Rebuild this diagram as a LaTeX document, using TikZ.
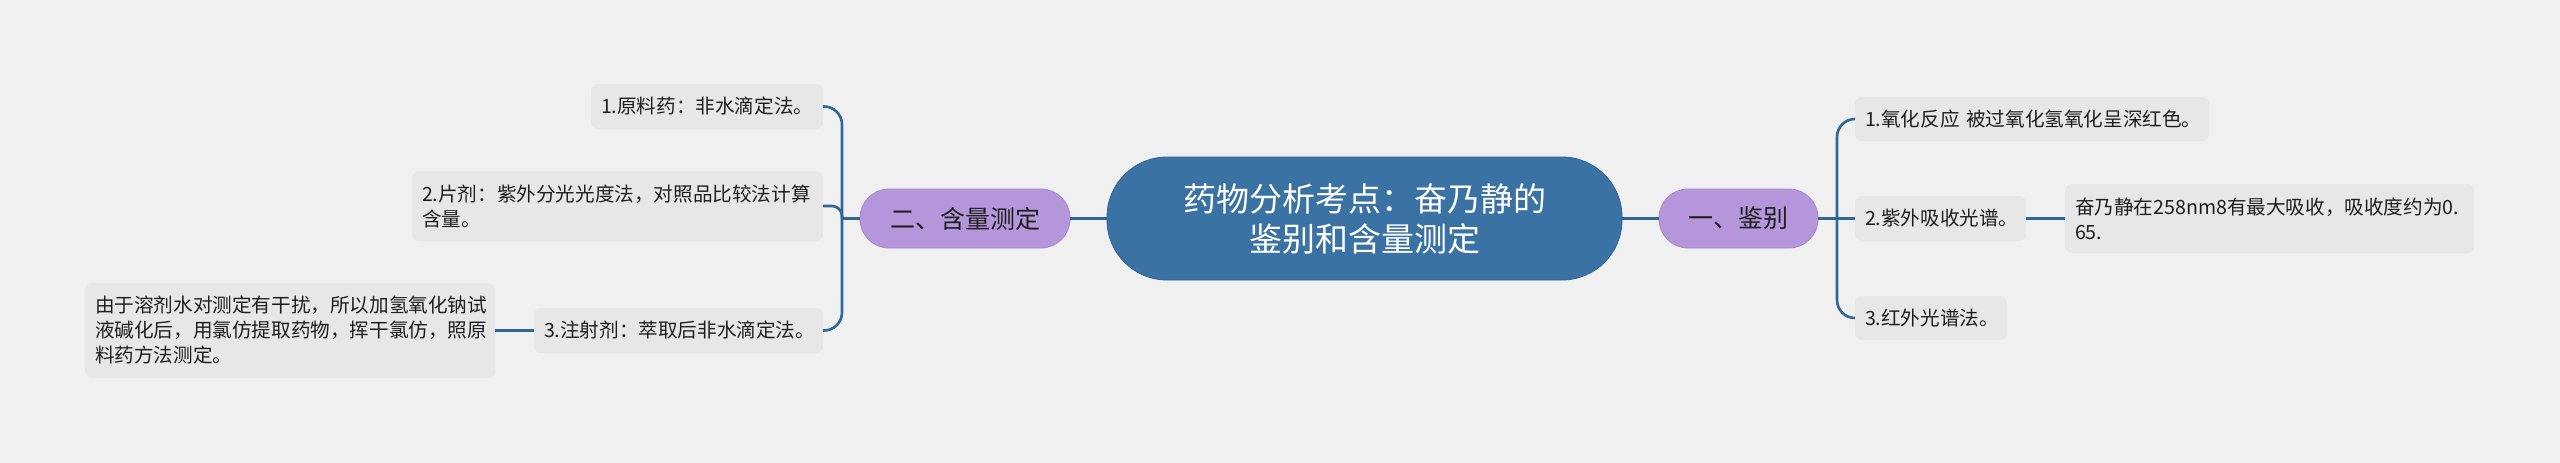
\documentclass[tikz,border=0pt]{standalone}
\usepackage{fontspec}
\setmainfont{Noto Sans CJK SC}
\definecolor{bgc}{HTML}{F0F0F0}
\definecolor{boxc}{HTML}{E7E7E7}
\definecolor{centc}{HTML}{3B72A4}
\definecolor{centb}{HTML}{2F6494}
\definecolor{purp}{HTML}{B596DA}
\definecolor{purpb}{HTML}{A686D0}
\definecolor{linec}{HTML}{2F6797}
\definecolor{txt}{HTML}{1E1E1E}
\begin{document}
\begin{tikzpicture}[x=1pt,y=-1pt,
  leaf/.style={fill=boxc, rounded corners=7pt, inner xsep=10pt, inner ysep=0pt,
    align=left, text=txt, font=\fontsize{19.6}{25}\selectfont},
  central/.style={fill=centc, draw=centb, line width=0.8pt, rounded corners=60pt,
    minimum width=515pt, minimum height=123pt, align=center, text=white,
    font=\fontsize{33}{40}\selectfont},
  branch/.style={fill=purp, draw=purpb, line width=0.8pt, rounded corners=29pt,
    minimum height=59pt, align=center, text=txt, font=\fontsize{25}{30}\selectfont},
  conn/.style={draw=linec, line width=2.6pt}
]
\useasboundingbox (0,0) rectangle (2560,463);
\fill[bgc] (0,0) rectangle (2560,463);

% central and branches
\node[central] (C) at (1364.5,218.5) {药物分析考点：奋乃静的\\鉴别和含量测定};
\node[branch, minimum width=210pt] (P2) at (965,218.5) {二、含量测定};
\node[branch, minimum width=159pt] (P1) at (1738.5,218.5) {一、鉴别};

% left leaves
\node[leaf, text width=212pt, minimum height=45pt] (L1) at (707,106.5) {1.原料药：非水滴定法。};
\node[leaf, text width=391pt, minimum height=70pt] (L2) at (617.5,206) {2.片剂：紫外分光光度法，对照品比较法计算\\含量。};
\node[leaf, text width=269pt, minimum height=45pt] (L3) at (678.5,330.5) {3.注射剂：萃取后非水滴定法。};
\node[leaf, text width=390pt, minimum height=95pt] (L3c) at (290,330.5) {由于溶剂水对测定有干扰，所以加氢氧化钠试\\液碱化后，用氯仿提取药物，挥干氯仿，照原\\料药方法测定。};

% right leaves
\node[leaf, text width=334pt, minimum height=44pt] (R1) at (2032,119) {\mbox{1.氧化反应 被过氧化氢氧化呈深红色。}};
\node[leaf, text width=151pt, minimum height=45pt] (R2) at (1940.5,218.5) {2.紫外吸收光谱。};
\node[leaf, text width=389pt, minimum height=69pt] (R2c) at (2269.5,218.5) {奋乃静在258nm8有最大吸收，吸收度约为0.\\65.};
\node[leaf, text width=132pt, minimum height=44pt] (R3) at (1931,318) {3.红外光谱法。};

% junctions
\coordinate (jl) at (842,218.5);
\coordinate (jr) at (1837,218.5);

% connectors
\draw[conn] (C.west) -- (P2.east);
\draw[conn] (C.east) -- (P1.west);
\draw[conn] (P2.west) -- (jl);
\draw[conn, rounded corners=18pt] (L1.east) -| (jl);
\draw[conn, rounded corners=10pt] (L2.east) -| (jl);
\draw[conn, rounded corners=18pt] (L3.east) -| (jl);
\draw[conn] (L3c.east) -- (L3.west);

\draw[conn] (P1.east) -- (jr);
\draw[conn, rounded corners=18pt] (jr) |- (R1.west);
\draw[conn] (jr) -- (R2.west);
\draw[conn, rounded corners=18pt] (jr) |- (R3.west);
\draw[conn] (R2.east) -- (R2c.west);
\end{tikzpicture}
\end{document}
